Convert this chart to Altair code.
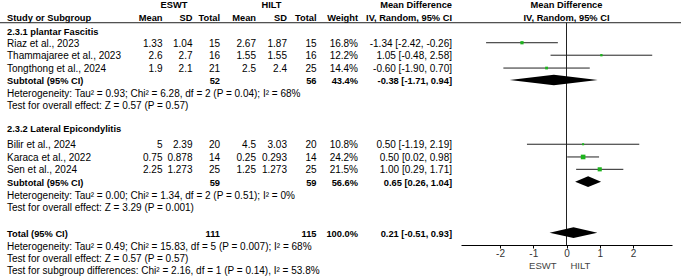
import altair as alt
import pandas as pd

# ---------------- data ----------------
study = ["Riaz et al., 2023", "Thammajaree et al., 2023", "Tongthong et al., 2024",
         "Bilir et al., 2024", "Karaca et al., 2022", "Sen et al., 2024"]
study_group = [0, 0, 0, 1, 1, 1]
e_mean = [1.33, 2.6, 1.9, 5, 0.75, 2.25]
e_sd = [1.04, 2.7, 2.1, 2.39, 0.878, 1.273]
e_n = [15, 16, 21, 20, 14, 25]
h_mean = [2.67, 1.55, 2.5, 4.5, 0.25, 1.25]
h_sd = [1.87, 1.55, 2.4, 3.03, 0.293, 1.273]
h_n = [15, 16, 25, 20, 14, 25]
weight = [16.8, 12.2, 14.4, 10.8, 24.2, 21.5]
md = [-1.34, 1.05, -0.60, 0.50, 0.50, 1.00]
md_lo = [-2.42, -0.48, -1.90, -1.19, 0.02, 0.29]
md_hi = [-0.26, 2.58, 0.70, 2.19, 0.98, 1.71]

groups = ["2.3.1 plantar Fascitis", "2.3.2 Lateral Epicondylitis"]
sub_e_n = [52, 59]
sub_h_n = [56, 59]
sub_w = [43.4, 56.6]
sub_md = [-0.38, 0.65]
sub_lo = [-1.71, 0.26]
sub_hi = [0.94, 1.04]
sub_het = ["Heterogeneity: Tau² = 0.93; Chi² = 6.28, df = 2 (P = 0.04); I² = 68%",
           "Heterogeneity: Tau² = 0.00; Chi² = 1.34, df = 2 (P = 0.51); I² = 0%"]
sub_test = ["Test for overall effect: Z = 0.57 (P = 0.57)",
            "Test for overall effect: Z = 3.29 (P = 0.001)"]

tot_e_n, tot_h_n, tot_w = 111, 115, 100.0
tot_md, tot_lo, tot_hi = 0.21, -0.51, 0.93
tot_het = "Heterogeneity: Tau² = 0.49; Chi² = 15.83, df = 5 (P = 0.007); I² = 68%"
tot_test = "Test for overall effect: Z = 0.57 (P = 0.57)"
subgroup_test = "Test for subgroup differences: Chi² = 2.16, df = 1 (P = 0.14), I² = 53.8%"

ticks = [-2, -1, 0, 1, 2]
left_lab, right_lab = "ESWT", "HILT"

# ---------------- layout (line numbers) ----------------
H = 245
PITCH = 12.35
D = H / PITCH
L_HDR1, L_HDR2, L_RULE = 0.36, 1.38, 1.84
L_GROUP = [2.47, 10.35]
L_STUDY = [3.46, 4.47, 5.51, 11.68, 12.71, 13.71]
L_SUB = [6.48, 14.71]
L_HET = [7.51, 15.75]
L_TEST = [8.50, 16.76]
L_TOT, L_TOT_HET, L_TOT_TEST, L_SG = 18.84, 19.88, 20.89, 21.90
L_SIDE = 21.42

FONT = "Arial"
FS = 10
FSB = 9.3
GREEN = "#1db31d"

COLS = {
    "label": (7, "left"), "e_mean": (162.5, "right"), "e_sd": (192.5, "right"),
    "e_n": (220, "right"), "h_mean": (256, "right"), "h_sd": (287, "right"),
    "h_n": (316.5, "right"), "weight": (358, "right"), "ci": (452, "right"),
    "grpE": (174, "center"), "grpH": (271.5, "center"),
}

def fmt(v):
    return str(v)

def ci(m, lo, hi):
    return f"{m:.2f} [{lo:.2f}, {hi:.2f}]"

cells = []
def add(line, col, text, bold):
    cells.append({"line": line, "col": col, "text": text, "bold": int(bold)})

add(L_HDR1, "grpE", left_lab, True)
add(L_HDR1, "grpH", right_lab, True)
add(L_HDR1, "ci", "Mean Difference", True)
for c, t in [("label", "Study or Subgroup"), ("e_mean", "Mean"), ("e_sd", "SD"), ("e_n", "Total"),
             ("h_mean", "Mean"), ("h_sd", "SD"), ("h_n", "Total"), ("weight", "Weight"),
             ("ci", "IV, Random, 95% CI")]:
    add(L_HDR2, c, t, True)

for g in range(2):
    add(L_GROUP[g], "label", groups[g], True)
    add(L_SUB[g], "label", "Subtotal (95% CI)", True)
    add(L_SUB[g], "e_n", fmt(sub_e_n[g]), True)
    add(L_SUB[g], "h_n", fmt(sub_h_n[g]), True)
    add(L_SUB[g], "weight", f"{sub_w[g]:.1f}%", True)
    add(L_SUB[g], "ci", ci(sub_md[g], sub_lo[g], sub_hi[g]), True)
    add(L_HET[g], "label", sub_het[g], False)
    add(L_TEST[g], "label", sub_test[g], False)

for i in range(len(study)):
    ln = L_STUDY[i]
    add(ln, "label", study[i], False)
    add(ln, "e_mean", fmt(e_mean[i]), False)
    add(ln, "e_sd", fmt(e_sd[i]), False)
    add(ln, "e_n", fmt(e_n[i]), False)
    add(ln, "h_mean", fmt(h_mean[i]), False)
    add(ln, "h_sd", fmt(h_sd[i]), False)
    add(ln, "h_n", fmt(h_n[i]), False)
    add(ln, "weight", f"{weight[i]:.1f}%", False)
    add(ln, "ci", ci(md[i], md_lo[i], md_hi[i]), False)

add(L_TOT, "label", "Total (95% CI)", True)
add(L_TOT, "e_n", fmt(tot_e_n), True)
add(L_TOT, "h_n", fmt(tot_h_n), True)
add(L_TOT, "weight", f"{tot_w:.1f}%", True)
add(L_TOT, "ci", ci(tot_md, tot_lo, tot_hi), True)
add(L_TOT_HET, "label", tot_het, False)
add(L_TOT_TEST, "label", tot_test, False)
add(L_SG, "label", subgroup_test, False)

cells_df = pd.DataFrame(cells)

forest_df = pd.DataFrame({"line": L_STUDY, "md": md, "lo": md_lo, "hi": md_hi, "w": weight})

dia = []
HALF = 0.43
for k, (ln, m, lo, hi) in enumerate(zip(L_SUB + [L_TOT], sub_md + [tot_md], sub_lo + [tot_lo], sub_hi + [tot_hi])):
    dia.append({"grp": k, "x": lo, "ya": ln, "yb": ln})
    dia.append({"grp": k, "x": m, "ya": ln - HALF, "yb": ln + HALF})
    dia.append({"grp": k, "x": hi, "ya": ln, "yb": ln})
dia_df = pd.DataFrame(dia)

# ---------------- scales ----------------
YS = alt.Scale(domain=[0, D], range=[0, H])
XS = alt.Scale(domain=[-3.175, 3.175], range=[461, 672])
XA = alt.Axis(values=ticks, title=None, grid=False, domainColor="#000", tickColor="#000",
              tickSize=3, labelFontSize=10, labelColor="#333", labelFont=FONT, labelPadding=0,
              labelExpr="'' + datum.value", domainWidth=1, tickWidth=1)

layers = []
for col, (xp, al) in COLS.items():
    for b in (0, 1):
        sub = cells_df[(cells_df.col == col) & (cells_df.bold == b)]
        if len(sub) == 0:
            continue
        layers.append(
            alt.Chart(sub).mark_text(align=al, baseline="middle", font=FONT, fontSize=FSB if b else FS,
                                     fontWeight="bold" if b else "normal", color="#000", dy=1)
            .encode(x=alt.value(xp), y=alt.Y("line:Q", scale=YS, axis=None), text="text:N")
        )

one = pd.DataFrame({"v": [0]})
# header separator
layers.append(alt.Chart(one).mark_rule(color="#222", strokeWidth=1).encode(
    x=alt.value(0), x2=alt.value(681), y=alt.Y(datum=L_RULE, scale=YS, axis=None)))
# zero line
layers.append(alt.Chart(one).mark_rule(color="#222", strokeWidth=1).encode(
    x=alt.X("v:Q", scale=XS, axis=XA), y=alt.Y(datum=L_RULE, scale=YS, axis=None), y2=alt.Y2(datum=D)))
# right headers
hdr_right = pd.DataFrame({"v": [0, 0], "line": [L_HDR1, L_HDR2], "text": ["Mean Difference", "IV, Random, 95% CI"]})
layers.append(alt.Chart(hdr_right).mark_text(align="center", baseline="middle", font=FONT, fontSize=FSB,
                                             fontWeight="bold", color="#000", dy=1).encode(
    x=alt.X("v:Q", scale=XS, axis=XA), y=alt.Y("line:Q", scale=YS, axis=None), text="text:N"))
# CI lines
layers.append(alt.Chart(forest_df).mark_rule(color="#222", strokeWidth=1).encode(
    x=alt.X("lo:Q", scale=XS, axis=XA), x2="hi:Q", y=alt.Y("line:Q", scale=YS, axis=None)))
# squares
layers.append(alt.Chart(forest_df).mark_square(color=GREEN, opacity=1, filled=True).encode(
    x=alt.X("md:Q", scale=XS, axis=XA), y=alt.Y("line:Q", scale=YS, axis=None),
    size=alt.Size("w:Q", scale=alt.Scale(type="pow", exponent=2, domain=[0, 25], range=[0, 23]), legend=None)))
# diamonds
layers.append(alt.Chart(dia_df).mark_area(color="#000", orient="vertical", interpolate="linear").encode(
    x=alt.X("x:Q", scale=XS, axis=XA), y=alt.Y("ya:Q", scale=YS, axis=None), y2="yb:Q", detail="grp:N"))
# favours labels
side = pd.DataFrame({"v": [0, 0], "line": [L_SIDE, L_SIDE], "text": [left_lab, right_lab]})
layers.append(alt.Chart(side[side.text == left_lab]).mark_text(align="right", baseline="middle", font=FONT,
                                                            fontSize=9.5, color="#444", dx=-10, dy=1).encode(
    x=alt.X("v:Q", scale=XS, axis=XA), y=alt.Y("line:Q", scale=YS, axis=None), text="text:N"))
layers.append(alt.Chart(side[side.text == right_lab]).mark_text(align="left", baseline="middle", font=FONT,
                                                             fontSize=9.5, color="#444", dx=4, dy=1).encode(
    x=alt.X("v:Q", scale=XS, axis=XA), y=alt.Y("line:Q", scale=YS, axis=None), text="text:N"))

chart = alt.layer(*layers).properties(
    width=681, height=H,
    padding={"left": 0, "right": 0, "top": 0, "bottom": 33},
    autosize=alt.AutoSizeParams(type="none"),
    background="white",
).configure_view(stroke=None)

chart.save("out.html", embed_options={"renderer": "svg", "actions": False})
